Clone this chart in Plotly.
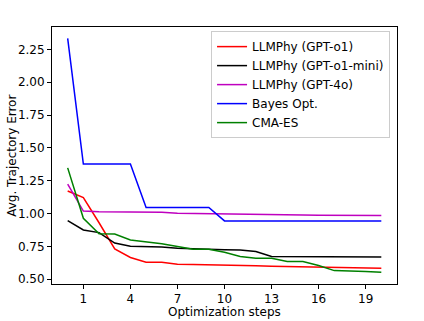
import plotly.graph_objects as go

steps = list(range(0, 21))
gpt_o1 = [1.172, 1.122, 0.93, 0.731, 0.666, 0.630, 0.630, 0.614, 0.612, 0.611, 0.609,
          0.605, 0.603, 0.600, 0.598, 0.596, 0.594, 0.591, 0.588, 0.586, 0.584]
gpt_o1_mini = [0.946, 0.875, 0.855, 0.776, 0.752, 0.750, 0.746, 0.736, 0.731, 0.731, 0.725,
               0.722, 0.712, 0.674, 0.673, 0.672, 0.671, 0.670, 0.670, 0.670, 0.670]
gpt_4o = [1.224, 1.019, 1.013, 1.012, 1.011, 1.011, 1.010, 1.003, 1.002, 1.001, 0.998,
          0.997, 0.996, 0.995, 0.994, 0.990, 0.988, 0.986, 0.985, 0.985, 0.985]
bayes = [2.334, 1.377, 1.377, 1.377, 1.377, 1.046, 1.046, 1.046, 1.046, 1.046, 0.944,
         0.944, 0.944, 0.944, 0.944, 0.944, 0.944, 0.944, 0.944, 0.944, 0.944]
cma_es = [1.348, 0.964, 0.846, 0.845, 0.799, 0.784, 0.771, 0.749, 0.729, 0.729, 0.705,
          0.673, 0.660, 0.660, 0.635, 0.635, 0.605, 0.566, 0.564, 0.560, 0.553]

series = [
    ("LLMPhy (GPT-o1)", gpt_o1, "#ff0000"),
    ("LLMPhy (GPT-o1-mini)", gpt_o1_mini, "#000000"),
    ("LLMPhy (GPT-4o)", gpt_4o, "#bf00bf"),
    ("Bayes Opt.", bayes, "#0000ff"),
    ("CMA-ES", cma_es, "#008000"),
]
x_ticks = [1, 4, 7, 10, 13, 16, 19]
y_ticks = [0.50, 0.75, 1.00, 1.25, 1.50, 1.75, 2.00, 2.25]
x_title = "Optimization steps"
y_title = "Avg. Trajectory Error"

fig = go.Figure()
for name, vals, color in series:
    fig.add_trace(go.Scatter(x=steps, y=vals, mode="lines", name=name,
                             line=dict(color=color, width=1.5)))

font = "DejaVu Sans"
fig.update_layout(
    width=424, height=321,
    margin=dict(l=52, r=27, t=27, b=37, autoexpand=False),
    paper_bgcolor="white", plot_bgcolor="white",
    font=dict(family=font, size=12, color="black"),
    showlegend=True,
    legend=dict(x=0.461, y=0.984, xanchor="left", yanchor="top",
                bgcolor="rgba(255,255,255,0.8)", bordercolor="#cccccc", borderwidth=1,
                font=dict(family=font, size=12), tracegroupgap=0, itemwidth=30),
    xaxis=dict(range=[-1, 21], tickvals=x_ticks, ticktext=[str(v) for v in x_ticks],
               showgrid=False, zeroline=False, showline=True, linecolor="black",
               linewidth=1, mirror=True, ticks="outside", ticklen=4, tickcolor="black",
               automargin=False, tickfont=dict(family=font, size=12)),
    yaxis=dict(range=[0.464, 2.42], tickvals=y_ticks,
               ticktext=[f"{v:.2f}" for v in y_ticks],
               showgrid=False, zeroline=False, showline=True, linecolor="black",
               linewidth=1, mirror=True, ticks="outside", ticklen=4, tickcolor="black",
               automargin=False, tickfont=dict(family=font, size=12)),
    annotations=[
        dict(text=x_title, xref="paper", yref="paper", x=0.5, y=-0.109,
             xanchor="center", yanchor="middle", showarrow=False,
             font=dict(family=font, size=12)),
        dict(text=y_title, xref="paper", yref="paper", x=-0.118, y=0.5,
             xanchor="center", yanchor="middle", showarrow=False, textangle=-90,
             font=dict(family=font, size=12)),
    ],
)
fig.write_html("out.html", config={"displayModeBar": False},
               post_script="document.body.style.margin='0';document.body.style.overflow='hidden';")
